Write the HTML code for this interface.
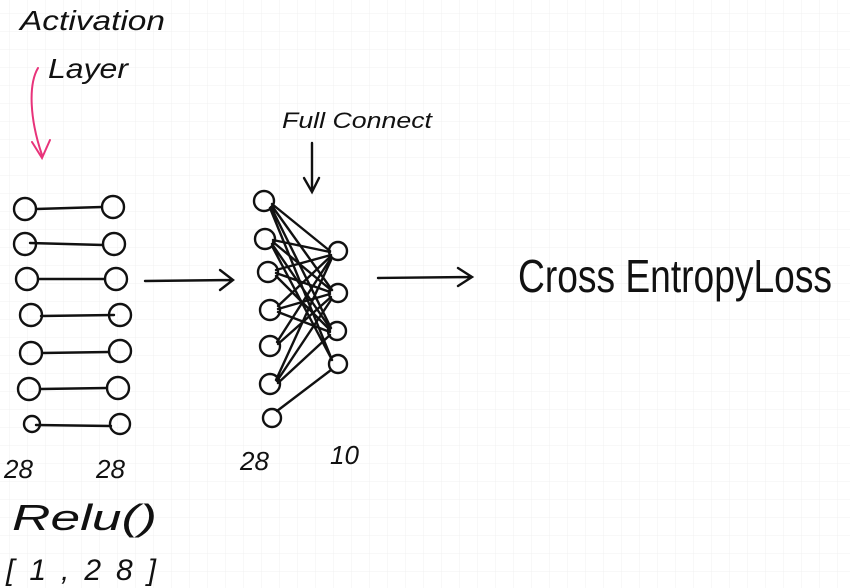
<!DOCTYPE html>
<html><head><meta charset="utf-8"><style>
html,body{margin:0;padding:0;background:#fff}
svg{display:block}
text{font-family:"Liberation Sans",sans-serif;fill:#111}
</style></head><body>
<svg width="850" height="588" viewBox="0 0 850 588" xmlns="http://www.w3.org/2000/svg">
<defs>
<pattern id="g" x="9" y="13" width="18" height="18" patternUnits="userSpaceOnUse">
<path d="M0 0H18M0 0V18" stroke="#f0f0f0" stroke-width="1" fill="none"/>
</pattern>
</defs>
<rect width="850" height="588" fill="url(#g)"/>
<g stroke="#111" stroke-width="2.4" fill="none" stroke-linecap="round">
<circle cx="25" cy="209" r="11"/><circle cx="113" cy="207" r="11"/><path d="M36 209 L102 207"/>
<circle cx="25" cy="244" r="11"/><circle cx="114" cy="244" r="11"/><path d="M30 243 L103 245"/>
<circle cx="27" cy="279" r="11"/><circle cx="116" cy="279" r="11"/><path d="M38 279 L105 279"/>
<circle cx="31" cy="315" r="11"/><circle cx="120" cy="315" r="11"/><path d="M41 316 L114 315"/>
<circle cx="31" cy="353" r="11"/><circle cx="120" cy="351" r="11"/><path d="M42 353 L109 352"/>
<circle cx="29" cy="389" r="11"/><circle cx="118" cy="388" r="11"/><path d="M40 389 L107 388"/>
<circle cx="32" cy="424" r="8"/><circle cx="120" cy="424" r="10"/><path d="M36 425 L111 426"/>
<path d="M145 281 L232 280 M220 270 L233 280 L220 290"/>
<path d="M378 278 L470 277 M458 268 L472 277 L458 286"/>
<path d="M312 143 L312 190 M304 178 L312 192 L319 178"/>
<path d="M38 68 C28 85 30 120 42 155 M32 142 L42 158 L50 140" stroke="#e8337a" stroke-width="2"/>
<circle cx="264" cy="201" r="10"/>
<circle cx="265" cy="239" r="10"/>
<circle cx="268" cy="272" r="10"/>
<circle cx="270" cy="310" r="10"/>
<circle cx="270" cy="346" r="10"/>
<circle cx="270" cy="384" r="10"/>
<circle cx="272" cy="418" r="9"/>
<circle cx="338" cy="251" r="9"/>
<circle cx="338" cy="293" r="9"/>
<circle cx="337" cy="331" r="9"/>
<circle cx="338" cy="364" r="9"/>
<path d="M272 204 L330 251 M272 206 L332 290 M271 207 L331 328 M270 208 L332 360"/>
<path d="M273 240 L330 252 M273 242 L331 290 M272 244 L330 328 M272 246 L331 358"/>
<path d="M276 270 L331 255 M276 273 L330 292 M276 276 L330 330"/>
<path d="M278 306 L331 256 M278 309 L330 294 M278 312 L330 332"/>
<path d="M277 342 L331 258 M278 344 L331 297"/>
<path d="M276 380 L331 260 M277 381 L331 300 M278 383 L330 335"/>
<path d="M277 411 L331 370"/>
</g>
<g font-style="italic">
<text x="20" y="30" font-size="28" textLength="145" lengthAdjust="spacingAndGlyphs">Activation</text>
<text x="48" y="78" font-size="28" textLength="80" lengthAdjust="spacingAndGlyphs">Layer</text>
<text x="282" y="128" font-size="22" textLength="150" lengthAdjust="spacingAndGlyphs">Full Connect</text>
<text x="4" y="478" font-size="26">28</text>
<text x="96" y="478" font-size="26">28</text>
<text x="240" y="470" font-size="26">28</text>
<text x="330" y="464" font-size="26">10</text>
<text x="12" y="530" font-size="36" textLength="145" lengthAdjust="spacingAndGlyphs">Relu()</text>
<text x="6" y="580" font-size="30" textLength="150" lengthAdjust="spacing">[1,28]</text>
</g>
<text x="518" y="292" font-size="46" textLength="314" lengthAdjust="spacingAndGlyphs">Cross EntropyLoss</text>
</svg>
</body></html>
